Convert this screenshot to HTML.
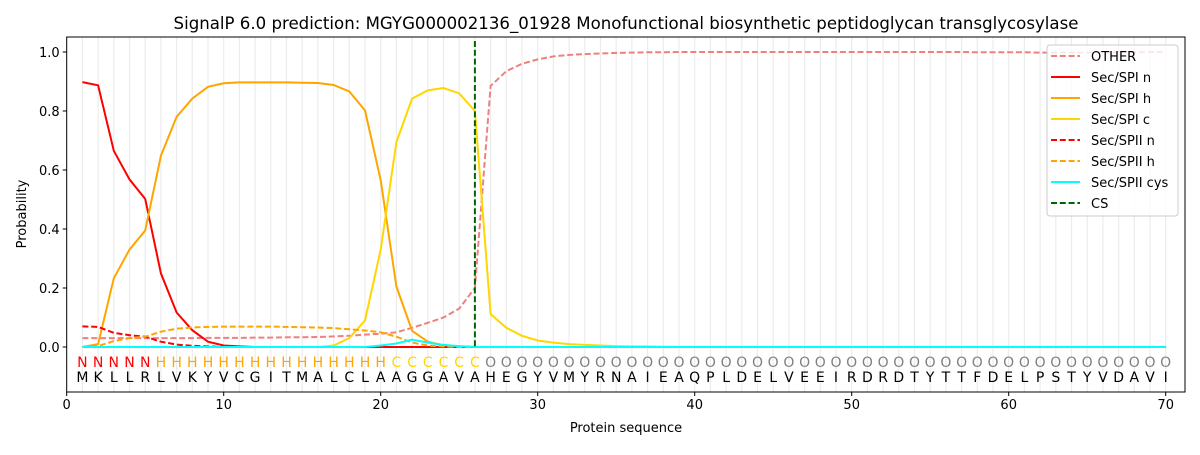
<!DOCTYPE html>
<html><head><meta charset="utf-8"><style>
body{margin:0;background:#fff;}
svg text{font-family:"DejaVu Sans","Liberation Sans",sans-serif;}
</style></head><body>
<svg id="s" width="1200" height="450" xmlns="http://www.w3.org/2000/svg"></svg>
<script>
const s=document.getElementById('s');
const X=v=>66.7+v*15.7, Y=v=>347-v*295;
let h='';
const L=66.7,R=1185,T=37,B=392;
for(let i=1;i<=70;i++)h+=`<line x1="${X(i)}" y1="${T}" x2="${X(i)}" y2="${B}" stroke="#ececec" stroke-width="1.2"/>`;
function z(n){return Array(n).fill(0);}
const other=[0.03,0.03,0.03,0.03,0.03,0.03,0.03,0.03,0.031,0.031,0.031,0.032,0.032,0.033,0.033,0.034,0.036,0.038,0.042,0.045,0.05,0.065,0.082,0.1,0.13,0.2,0.885,0.935,0.96,0.975,0.985,0.99,0.993,0.995,0.997,0.998,0.999,0.999,1,1,1,1,1,1,1,1,1,1,1,1,1,1,1,1,1,1,1,0.999,0.999,0.999,0.999,0.998,0.998,0.998,0.998,0.998,0.999,0.999,1,1];
const n1=[0.898,0.887,0.665,0.568,0.502,0.25,0.117,0.057,0.018,0.005,0.002].concat(z(59));
const h1=[0,0.01,0.233,0.33,0.395,0.648,0.78,0.842,0.882,0.894,0.897,0.897,0.897,0.897,0.896,0.895,0.888,0.866,0.802,0.565,0.205,0.055,0.018,0.005,0.002].concat(z(45));
const c1=z(16).concat([0.005,0.03,0.09,0.33,0.695,0.842,0.87,0.878,0.86,0.8,0.112,0.065,0.038,0.022,0.015,0.01,0.007,0.005,0.003,0.002,0.002,0.001]).concat(z(32));
const n2=[0.07,0.068,0.048,0.04,0.035,0.018,0.008,0.004,0.002].concat(z(61));
const h2=[0,0.003,0.02,0.03,0.035,0.052,0.062,0.066,0.068,0.069,0.069,0.069,0.069,0.068,0.067,0.066,0.064,0.06,0.056,0.05,0.035,0.015,0.005,0.002].concat(z(46));
const cy=z(19).concat([0.005,0.012,0.025,0.015,0.007,0.003]).concat(z(45));
function line(d,c,dash,w){return `<polyline fill="none" stroke="${c}" stroke-width="${w||2}" ${dash?'stroke-dasharray="6,2.8"':''} points="${d.map((v,i)=>X(i+1).toFixed(1)+','+Y(v).toFixed(1)).join(' ')}"/>`;}
h+=line(other,'#f08080',1);
h+=line(n1,'#ff0000');h+=line(h1,'#ffa500');h+=line(c1,'#ffd700');
h+=line(n2,'#ff0000',1);h+=line(h2,'#ffa500',1);h+=line(cy,'#00ffff');
h+=`<line x1="${X(26)}" y1="41" x2="${X(26)}" y2="347" stroke="#006400" stroke-width="2" stroke-dasharray="6,2.8"/>`;
const seq="MKLLRLVKYVCGITMALCLAAGGAVAHEGYVMYRNAIEAQPLDELVEEIRDRDTYTTFDELPSTYVDAVI";
for(let i=0;i<70;i++){let lab,c;if(i<5){lab='N';c='#ff0000';}else if(i<20){lab='H';c='#ffa500';}else if(i<26){lab='C';c='#ffd700';}else{lab='O';c='#808080';}
h+=`<text x="${X(i+1)}" y="367" font-size="14" fill="${c}" text-anchor="middle">${lab}</text>`;
h+=`<text x="${X(i+1)}" y="382" font-size="14" fill="#000" text-anchor="middle">${seq[i]}</text>`;}
h+=`<rect x="${L}" y="${T}" width="${R-L}" height="${B-T}" fill="none" stroke="#000" stroke-width="1"/>`;
for(let i=0;i<=70;i+=10)h+=`<line x1="${X(i)}" y1="${B}" x2="${X(i)}" y2="${B+4}" stroke="#000"/><text x="${X(i)}" y="${B+17}" font-size="13" text-anchor="middle">${i}</text>`;
for(let i=0;i<=5;i++){let v=i*0.2;h+=`<line x1="${L-4}" y1="${Y(v)}" x2="${L}" y2="${Y(v)}" stroke="#000"/><text x="${L-7}" y="${Y(v)+5}" font-size="13" text-anchor="end">${v.toFixed(1)}</text>`;}
h+=`<text x="626" y="432" font-size="13" text-anchor="middle">Protein sequence</text>`;
h+=`<text transform="translate(26,214) rotate(-90)" font-size="13" text-anchor="middle">Probability</text>`;
h+=`<text x="626" y="29" font-size="16.6" text-anchor="middle">SignalP 6.0 prediction: MGYG000002136_01928 Monofunctional biosynthetic peptidoglycan transglycosylase</text>`;
h+=`<rect x="1047" y="45" width="131" height="171" rx="3" fill="#fff" fill-opacity="0.8" stroke="#ccc"/>`;
const lg=[['OTHER','#f08080',1],['Sec/SPI n','#ff0000'],['Sec/SPI h','#ffa500'],['Sec/SPI c','#ffd700'],['Sec/SPII n','#ff0000',1],['Sec/SPII h','#ffa500',1],['Sec/SPII cys','#00ffff'],['CS','#006400',1]];
lg.forEach((e,i)=>{let y=56+i*21;h+=`<line x1="1051" y1="${y}" x2="1080" y2="${y}" stroke="${e[1]}" stroke-width="2" ${e[2]?'stroke-dasharray="6,2.8"':''}/><text x="1091" y="${y+5}" font-size="13">${e[0]}</text>`;});
s.innerHTML=h;
</script>
</body></html>
